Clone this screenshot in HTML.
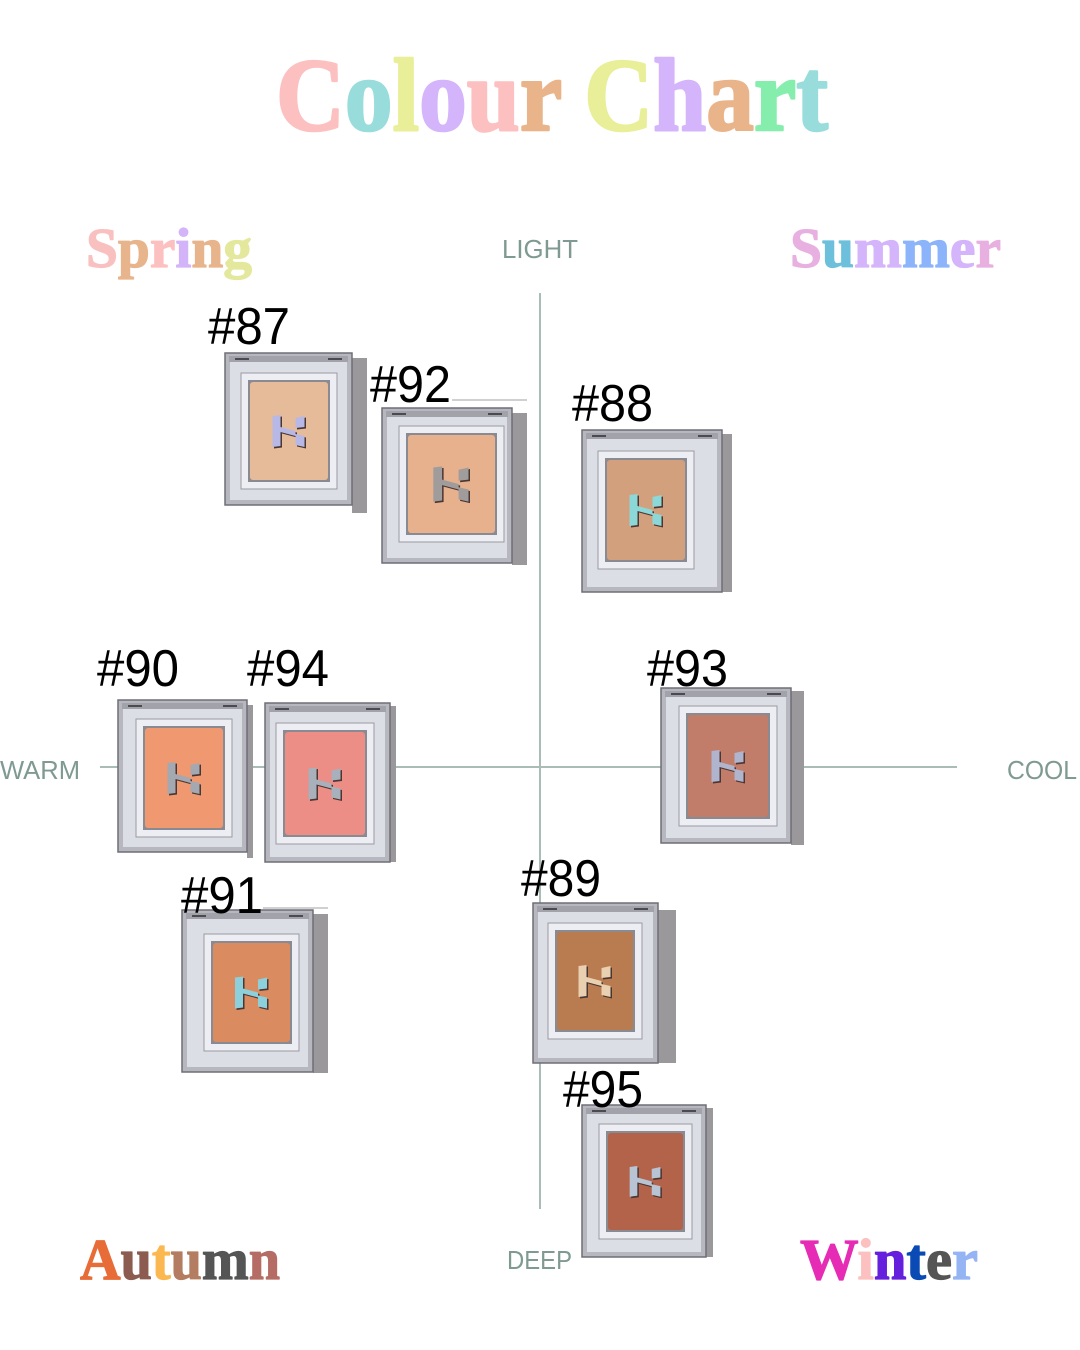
<!DOCTYPE html>
<html><head><meta charset="utf-8"><style>
html,body{margin:0;padding:0;background:#fff;}
svg{display:block;}
.b{stroke-width:2.5;stroke-linejoin:round;}
.s{stroke-width:1.2;stroke-linejoin:round;}
</style></head><body>
<svg width="1080" height="1350" viewBox="0 0 1080 1350" xmlns="http://www.w3.org/2000/svg">
<defs>
<path id="H" d="M1,1 L9,0 L9,31 L1,32 Z M24,3 L33,1 L33,12 L24,13 Z M9,12 L24,16 L24,21 L9,17 Z M24,19 L33,21 L33,32 L24,30 Z"/>
</defs>
<rect width="1080" height="1350" fill="#fff"/>

<!-- Title -->
<text class="b" x="276" y="130" font-family="'Liberation Serif',serif" font-weight="bold" font-size="104" textLength="552" lengthAdjust="spacingAndGlyphs"><tspan fill="#fcc0c0" stroke="#fcc0c0">C</tspan><tspan fill="#99dcdc" stroke="#99dcdc">o</tspan><tspan fill="#e8ef98" stroke="#e8ef98">l</tspan><tspan fill="#d4b4fa" stroke="#d4b4fa">o</tspan><tspan fill="#fcc0c0" stroke="#fcc0c0">u</tspan><tspan fill="#e9b48a" stroke="#e9b48a">r</tspan> <tspan fill="#e8ef98" stroke="#e8ef98">C</tspan><tspan fill="#d4b4fa" stroke="#d4b4fa">h</tspan><tspan fill="#e9b48a" stroke="#e9b48a">a</tspan><tspan fill="#86eeac" stroke="#86eeac">r</tspan><tspan fill="#99dcdc" stroke="#99dcdc">t</tspan></text>

<!-- Season labels -->
<text class="s" x="86" y="267" font-family="'Liberation Serif',serif" font-weight="bold" font-size="56" textLength="166" lengthAdjust="spacingAndGlyphs"><tspan fill="#f9c0c0" stroke="#f9c0c0">S</tspan><tspan fill="#e8b48c" stroke="#e8b48c">p</tspan><tspan fill="#fcc0c0" stroke="#fcc0c0">r</tspan><tspan fill="#d4b4f8" stroke="#d4b4f8">i</tspan><tspan fill="#e8b48c" stroke="#e8b48c">n</tspan><tspan fill="#e4e89c" stroke="#e4e89c">g</tspan></text>
<text class="s" x="790" y="267" font-family="'Liberation Serif',serif" font-weight="bold" font-size="56" textLength="211" lengthAdjust="spacingAndGlyphs"><tspan fill="#e8b0e0" stroke="#e8b0e0">S</tspan><tspan fill="#6cc0dc" stroke="#6cc0dc">u</tspan><tspan fill="#d4b4fa" stroke="#d4b4fa">m</tspan><tspan fill="#8cb4fa" stroke="#8cb4fa">m</tspan><tspan fill="#d4b4fa" stroke="#d4b4fa">e</tspan><tspan fill="#e8b0e0" stroke="#e8b0e0">r</tspan></text>
<text class="s" x="80" y="1279" font-family="'Liberation Serif',serif" font-weight="bold" font-size="58" textLength="200" lengthAdjust="spacingAndGlyphs"><tspan fill="#e86c38" stroke="#e86c38">A</tspan><tspan fill="#8c5c50" stroke="#8c5c50">u</tspan><tspan fill="#fcb850" stroke="#fcb850">t</tspan><tspan fill="#b47c60" stroke="#b47c60">u</tspan><tspan fill="#555555" stroke="#555555">m</tspan><tspan fill="#b46c64" stroke="#b46c64">n</tspan></text>
<text class="s" x="800" y="1279" font-family="'Liberation Serif',serif" font-weight="bold" font-size="58" textLength="178" lengthAdjust="spacingAndGlyphs"><tspan fill="#e62cb4" stroke="#e62cb4">W</tspan><tspan fill="#fcc0c0" stroke="#fcc0c0">i</tspan><tspan fill="#6420dc" stroke="#6420dc">n</tspan><tspan fill="#0a4ab4" stroke="#0a4ab4">t</tspan><tspan fill="#555555" stroke="#555555">e</tspan><tspan fill="#94b4f4" stroke="#94b4f4">r</tspan></text>

<!-- Axes -->
<line x1="540" y1="293" x2="540" y2="1209" stroke="#a9bcb5" stroke-width="2"/>
<line x1="100" y1="767" x2="957" y2="767" stroke="#a9bcb5" stroke-width="2"/>
<g font-family="'Liberation Sans',sans-serif" font-size="26" fill="#7f9a92">
<text x="502" y="258" textLength="76" lengthAdjust="spacingAndGlyphs">LIGHT</text>
<text x="0" y="779" textLength="80" lengthAdjust="spacingAndGlyphs">WARM</text>
<text x="1007" y="779" textLength="70" lengthAdjust="spacingAndGlyphs">COOL</text>
<text x="507" y="1269" textLength="65" lengthAdjust="spacingAndGlyphs">DEEP</text>
</g>

<!-- stray crop lines -->
<line x1="452" y1="400" x2="527" y2="400" stroke="#a0a0a0" stroke-width="1"/>
<line x1="263" y1="908" x2="328" y2="908" stroke="#a0a0a0" stroke-width="1"/>

<!-- #87 -->
<g>
<rect x="352" y="358" width="15" height="155" fill="#9a989b"/>
<rect x="225" y="353" width="127" height="152" fill="#b6b7bf" stroke="#6e6e76" stroke-width="1.5"/>
<rect x="230" y="362" width="117" height="138" fill="#dcdee6"/>
<rect x="229" y="356" width="119" height="6" fill="#a2a2aa"/>
<rect x="235" y="358" width="14" height="2" fill="#4a4a50"/><rect x="328" y="358" width="14" height="2" fill="#4a4a50"/>
<rect x="241" y="373" width="96" height="116" fill="#eceef3" stroke="#9a9aa2"/>
<rect x="248" y="380" width="82" height="102" fill="#8a8a92"/>
<rect x="250" y="382" width="78" height="98" rx="3" fill="#e6bb9a"/>
<use href="#H" transform="translate(273,416.5)" fill="#4a3632"/>
<use href="#H" transform="translate(271.5,415)" fill="#b8b8e6"/>
</g>
<!-- #92 -->
<g>
<rect x="512" y="413" width="15" height="152" fill="#9a989b"/>
<rect x="382" y="408" width="130" height="155" fill="#b6b7bf" stroke="#6e6e76" stroke-width="1.5"/>
<rect x="387" y="417" width="120" height="141" fill="#dcdee6"/>
<rect x="386" y="411" width="122" height="6" fill="#a2a2aa"/>
<rect x="392" y="413" width="14" height="2" fill="#4a4a50"/><rect x="488" y="413" width="14" height="2" fill="#4a4a50"/>
<rect x="399" y="426" width="105" height="116" fill="#eceef3" stroke="#9a9aa2"/>
<rect x="406" y="433" width="91" height="102" fill="#8a8a92"/>
<rect x="408" y="435" width="87" height="98" rx="3" fill="#e8b18e"/>
<use href="#H" transform="translate(433.7,467.9) scale(1.1)" fill="#4a3632"/>
<use href="#H" transform="translate(432.2,466.4) scale(1.1)" fill="#a09c9c"/>
</g>
<!-- #88 -->
<g>
<rect x="722" y="434" width="10" height="158" fill="#9a989b"/>
<rect x="582" y="430" width="140" height="162" fill="#b6b7bf" stroke="#6e6e76" stroke-width="1.5"/>
<rect x="587" y="439" width="130" height="148" fill="#dcdee6"/>
<rect x="586" y="433" width="132" height="6" fill="#a2a2aa"/>
<rect x="592" y="435" width="14" height="2" fill="#4a4a50"/><rect x="698" y="435" width="14" height="2" fill="#4a4a50"/>
<rect x="598" y="451" width="96" height="118" fill="#eceef3" stroke="#9a9aa2"/>
<rect x="605" y="458" width="82" height="104" fill="#8a8a92"/>
<rect x="607" y="460" width="78" height="100" rx="3" fill="#d3a07e"/>
<use href="#H" transform="translate(630,495.5)" fill="#4a3632"/>
<use href="#H" transform="translate(628.5,494)" fill="#8cd8d8"/>
</g>
<!-- #90 -->
<g>
<rect x="247" y="705" width="6" height="153" fill="#9a989b"/>
<rect x="118" y="700" width="129" height="152" fill="#b6b7bf" stroke="#6e6e76" stroke-width="1.5"/>
<rect x="123" y="709" width="119" height="138" fill="#dcdee6"/>
<rect x="122" y="703" width="121" height="6" fill="#a2a2aa"/>
<rect x="128" y="705" width="14" height="2" fill="#4a4a50"/><rect x="223" y="705" width="14" height="2" fill="#4a4a50"/>
<rect x="136" y="719" width="96" height="118" fill="#eceef3" stroke="#9a9aa2"/>
<rect x="143" y="726" width="82" height="104" fill="#8a8a92"/>
<rect x="145" y="728" width="78" height="100" rx="3" fill="#f09870"/>
<use href="#H" transform="translate(168,763.5)" fill="#4a3632"/>
<use href="#H" transform="translate(166.5,762)" fill="#a4a8b0"/>
</g>
<!-- #94 -->
<g>
<rect x="390" y="706" width="6" height="156" fill="#9a989b"/>
<rect x="265" y="703" width="125" height="159" fill="#b6b7bf" stroke="#6e6e76" stroke-width="1.5"/>
<rect x="270" y="712" width="115" height="145" fill="#dcdee6"/>
<rect x="269" y="706" width="117" height="6" fill="#a2a2aa"/>
<rect x="275" y="708" width="14" height="2" fill="#4a4a50"/><rect x="366" y="708" width="14" height="2" fill="#4a4a50"/>
<rect x="276" y="723" width="98" height="121" fill="#eceef3" stroke="#9a9aa2"/>
<rect x="283" y="730" width="84" height="107" fill="#8a8a92"/>
<rect x="285" y="732" width="80" height="103" rx="3" fill="#ec8d86"/>
<use href="#H" transform="translate(309,769)" fill="#4a3632"/>
<use href="#H" transform="translate(307.5,767.5)" fill="#a8b0bc"/>
</g>
<!-- #93 -->
<g>
<rect x="791" y="691" width="13" height="154" fill="#9a989b"/>
<rect x="661" y="688" width="130" height="155" fill="#b6b7bf" stroke="#6e6e76" stroke-width="1.5"/>
<rect x="666" y="697" width="120" height="141" fill="#dcdee6"/>
<rect x="665" y="691" width="122" height="6" fill="#a2a2aa"/>
<rect x="671" y="693" width="14" height="2" fill="#4a4a50"/><rect x="767" y="693" width="14" height="2" fill="#4a4a50"/>
<rect x="679" y="706" width="98" height="120" fill="#eceef3" stroke="#9a9aa2"/>
<rect x="686" y="713" width="84" height="106" fill="#8a8a92"/>
<rect x="688" y="715" width="80" height="102" rx="3" fill="#c27c6a"/>
<use href="#H" transform="translate(712,751.5)" fill="#4a3632"/>
<use href="#H" transform="translate(710.5,750)" fill="#b0b4cc"/>
</g>
<!-- #91 -->
<g>
<rect x="313" y="914" width="15" height="159" fill="#9a989b"/>
<rect x="182" y="910" width="131" height="162" fill="#b6b7bf" stroke="#6e6e76" stroke-width="1.5"/>
<rect x="187" y="919" width="121" height="148" fill="#dcdee6"/>
<rect x="186" y="913" width="123" height="6" fill="#a2a2aa"/>
<rect x="192" y="915" width="14" height="2" fill="#4a4a50"/><rect x="289" y="915" width="14" height="2" fill="#4a4a50"/>
<rect x="204" y="934" width="95" height="117" fill="#eceef3" stroke="#9a9aa2"/>
<rect x="211" y="941" width="81" height="103" fill="#8a8a92"/>
<rect x="213" y="943" width="77" height="99" rx="3" fill="#da8b60"/>
<use href="#H" transform="translate(235.5,978)" fill="#4a3632"/>
<use href="#H" transform="translate(234,976.5)" fill="#8cd0dc"/>
</g>
<!-- #89 -->
<g>
<rect x="658" y="910" width="18" height="153" fill="#9a989b"/>
<rect x="533" y="903" width="125" height="160" fill="#b6b7bf" stroke="#6e6e76" stroke-width="1.5"/>
<rect x="538" y="912" width="115" height="146" fill="#dcdee6"/>
<rect x="537" y="906" width="117" height="6" fill="#a2a2aa"/>
<rect x="543" y="908" width="14" height="2" fill="#4a4a50"/><rect x="634" y="908" width="14" height="2" fill="#4a4a50"/>
<rect x="548" y="923" width="94" height="116" fill="#eceef3" stroke="#9a9aa2"/>
<rect x="555" y="930" width="80" height="102" fill="#8a8a92"/>
<rect x="557" y="932" width="76" height="98" rx="3" fill="#b97b50"/>
<use href="#H" transform="translate(579,966.5)" fill="#4a3632"/>
<use href="#H" transform="translate(577.5,965)" fill="#e8d0b0"/>
</g>
<!-- #95 -->
<g>
<rect x="706" y="1108" width="7" height="149" fill="#9a989b"/>
<rect x="582" y="1105" width="124" height="152" fill="#b6b7bf" stroke="#6e6e76" stroke-width="1.5"/>
<rect x="587" y="1114" width="114" height="138" fill="#dcdee6"/>
<rect x="586" y="1108" width="116" height="6" fill="#a2a2aa"/>
<rect x="592" y="1110" width="14" height="2" fill="#4a4a50"/><rect x="682" y="1110" width="14" height="2" fill="#4a4a50"/>
<rect x="599" y="1124" width="93" height="115" fill="#eceef3" stroke="#9a9aa2"/>
<rect x="606" y="1131" width="79" height="101" fill="#8a8a92"/>
<rect x="608" y="1133" width="75" height="97" rx="3" fill="#b2634a"/>
<use href="#H" transform="translate(630.2,1167.5) scale(0.96)" fill="#4a3632"/>
<use href="#H" transform="translate(628.7,1166) scale(0.96)" fill="#b8c4d4"/>
</g>

<!-- Shade labels -->
<g font-family="'Liberation Sans',sans-serif" font-size="52" fill="#000">
<text x="208" y="344" textLength="82" lengthAdjust="spacingAndGlyphs">#87</text>
<text x="370" y="402" textLength="81" lengthAdjust="spacingAndGlyphs">#92</text>
<text x="572" y="421" textLength="81" lengthAdjust="spacingAndGlyphs">#88</text>
<text x="97" y="686" textLength="82" lengthAdjust="spacingAndGlyphs">#90</text>
<text x="247" y="686" textLength="82" lengthAdjust="spacingAndGlyphs">#94</text>
<text x="647" y="686" textLength="81" lengthAdjust="spacingAndGlyphs">#93</text>
<text x="181" y="913" textLength="82" lengthAdjust="spacingAndGlyphs">#91</text>
<text x="521" y="896" textLength="80" lengthAdjust="spacingAndGlyphs">#89</text>
<text x="563" y="1107" textLength="80" lengthAdjust="spacingAndGlyphs">#95</text>
</g>
</svg>
</body></html>
